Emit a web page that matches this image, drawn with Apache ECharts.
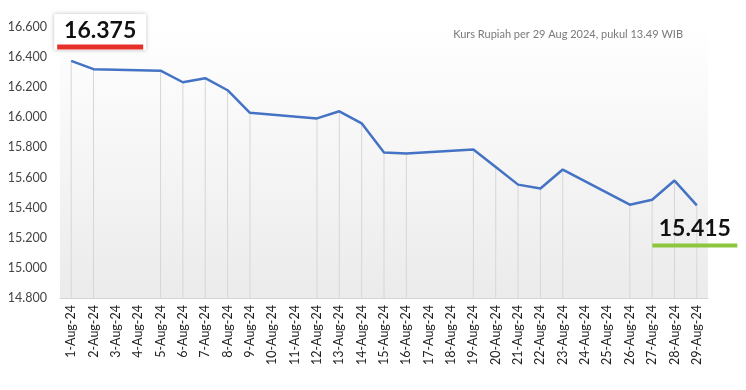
<!DOCTYPE html>
<html><head><meta charset="utf-8">
<script src="https://cdn.jsdelivr.net/npm/echarts@6/dist/echarts.min.js"></script>
<style>html,body{margin:0;padding:0;background:#fff}#c{width:746px;height:390px}</style>
</head><body><div id="c"></div>
<script>
const categories = ['1-Aug-24','2-Aug-24','3-Aug-24','4-Aug-24','5-Aug-24','6-Aug-24','7-Aug-24','8-Aug-24','9-Aug-24','10-Aug-24','11-Aug-24','12-Aug-24','13-Aug-24','14-Aug-24','15-Aug-24','16-Aug-24','17-Aug-24','18-Aug-24','19-Aug-24','20-Aug-24','21-Aug-24','22-Aug-24','23-Aug-24','24-Aug-24','25-Aug-24','26-Aug-24','27-Aug-24','28-Aug-24','29-Aug-24'];
const rates = [16375,16320,null,null,16310,16233,16260,16180,16030,null,null,15993,16040,15960,15767,15760,null,null,15787,15670,15553,15527,15653,null,null,15420,15453,15580,15415];
const yTicks = {min:14800, max:16600, interval:200};
const subtitle = 'Kurs Rupiah per 29 Aug 2024, pukul 13.49 WIB';
const fmt = v => String(v).replace(/(\d)(?=(\d{3})+$)/g,'$1.');

const FONT = 'Lato, "Open Sans", sans-serif';
const lineData = rates.map((v,i) => {
  if (v === null) return null;
  const item = {value: v};
  if (i === 0) {
    item.label = {show:true, position:'inside', offset:[29,-29],
      formatter: '{v|' + fmt(v) + '}\n{b|}',
      backgroundColor:'#fff', shadowColor:'rgba(0,0,0,0.25)', shadowBlur:4,
      padding:[3,3,0,3],
      rich:{v:{fontSize:23, fontWeight:'bold', color:'#111', fontFamily:FONT, lineHeight:27},
            b:{backgroundColor:'#e8302a', height:5, width:86, lineHeight:6}}};
  }
  if (i === rates.length-1) {
    item.label = {show:true, position:'inside', offset:[-2,26],
      formatter: '{v|' + fmt(v) + '}\n{b|}',
      padding:[0,0,0,0],
      rich:{v:{fontSize:23, fontWeight:'bold', color:'#111', fontFamily:FONT, lineHeight:28},
            b:{backgroundColor:'#8cc63f', height:4, width:85, lineHeight:5}}};
  }
  return item;
});

const chart = echarts.init(document.getElementById('c'));
chart.setOption({
  animation:false,
  title:{text:subtitle, right:58, top:24, textStyle:{fontSize:11, fontWeight:'normal', color:'#7a7a7a', fontFamily:FONT}},
  grid:{left:60, right:38, top:27, bottom:92, show:true, borderWidth:0,
    backgroundColor:{type:'linear', x:0, y:0, x2:0, y2:1, colorStops:[{offset:0,color:'#ffffff'},{offset:1,color:'#ebebeb'}]}},
  xAxis:{type:'category', data:categories, boundaryGap:true,
    axisLine:{lineStyle:{color:'#d4d4d4', width:1}}, axisTick:{show:false},
    axisLabel:{rotate:90, interval:0, fontSize:12.5, color:'#222', fontFamily:FONT, margin:7}},
  yAxis:{type:'value', min:yTicks.min, max:yTicks.max, interval:yTicks.interval,
    axisLine:{show:false}, axisTick:{show:false}, splitLine:{show:false},
    axisLabel:{formatter:fmt, fontSize:12.5, color:'#444', fontFamily:FONT, margin:13}},
  series:[
    {type:'bar', data:rates, barWidth:1, itemStyle:{color:'#d6d6d6'}, silent:true, z:1},
    {type:'line', data:lineData, connectNulls:true, symbol:'circle', symbolSize:0.1,
      lineStyle:{color:'#4472c4', width:2.5}, itemStyle:{color:'#4472c4'}, z:3}
  ]
});
</script></body></html>
